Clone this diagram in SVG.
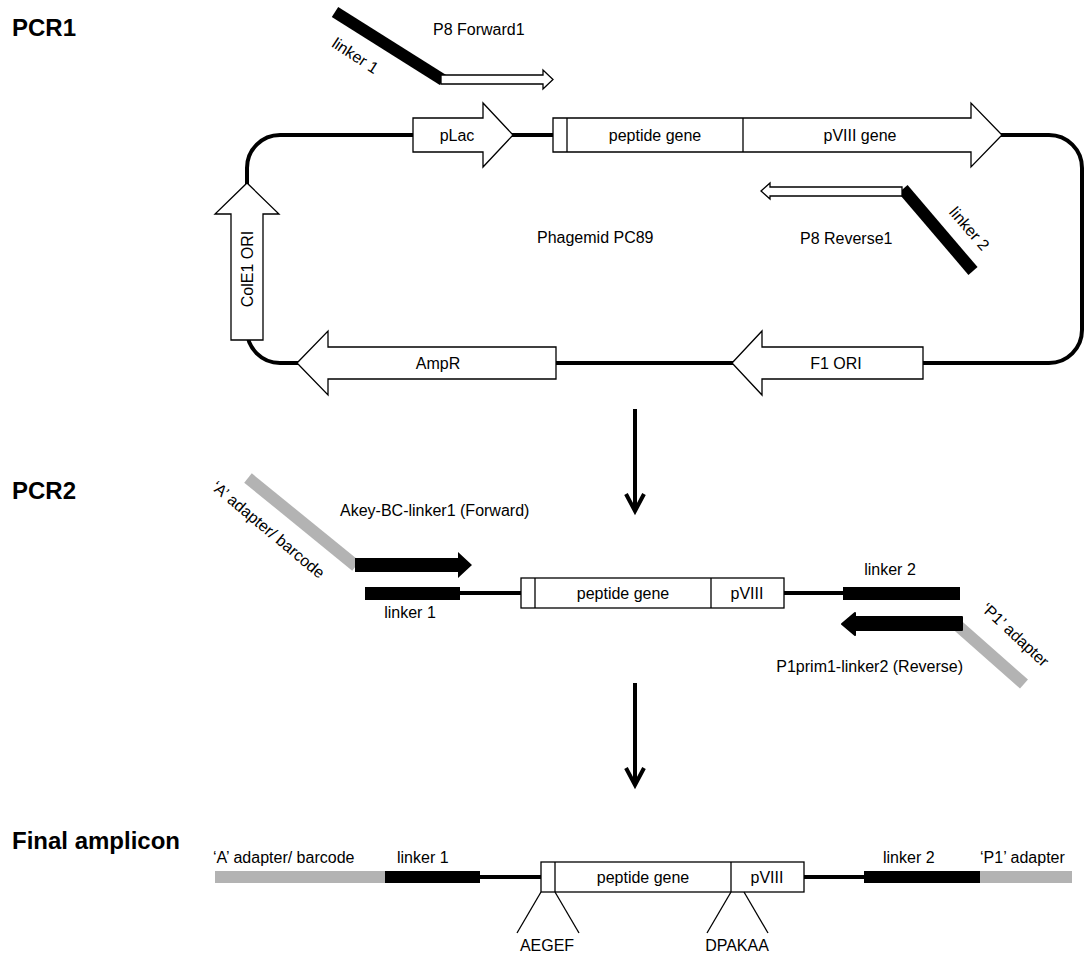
<svg xmlns="http://www.w3.org/2000/svg" width="1085" height="954" viewBox="0 0 1085 954">
<style>
text{font-family:"Liberation Sans",Arial,sans-serif;font-size:16px;fill:#000}
.h{font-weight:bold;font-size:24px}
.m{text-anchor:middle}
.e{text-anchor:end}
.box{fill:#fff;stroke:#000;stroke-width:1.3}
.thin{stroke:#000;stroke-width:1.3;fill:none}
.bb{fill:none;stroke:#000;stroke-width:4}
.blk{fill:#000}
.gry{fill:#b3b3b3}
.gbar{stroke:#b3b3b3;stroke-width:12;fill:none}
.kbar{stroke:#000;stroke-width:12;fill:none}
</style>
<rect width="1085" height="954" fill="#fff"/>
<g id="labels">
<text class="h" x="12" y="36">PCR1</text>
<text class="h" x="12" y="499">PCR2</text>
<text class="h" x="12" y="849">Final amplicon</text>
</g>
<g id="connectors">
<path class="bb" d="M280,135 H1049 A33,33 0 0 1 1082,168 V330 A33,33 0 0 1 1049,363 H280 A33,33 0 0 1 247,330 V168 A33,33 0 0 1 280,135 Z"/>
<line class="bb" x1="635" y1="409" x2="635" y2="510"/>
<polyline class="bb" points="626,494 635,511 644,494"/>
<line class="bb" x1="635" y1="683" x2="635" y2="784"/>
<polyline class="bb" points="626,768 635,785 644,768"/>
<line class="bb" x1="460" y1="593" x2="521" y2="593"/>
<line class="bb" x1="784" y1="593" x2="843" y2="593"/>
<line class="bb" x1="480" y1="877" x2="541" y2="877"/>
<line class="bb" x1="804" y1="877" x2="864" y2="877"/>
</g>
<g id="plasmid">
<g id="pLac">
<polygon class="box" points="413,118 483,118 483,103 513,135 483,167 483,152 413,152"/>
<text class="m" x="457" y="141">pLac</text>
</g>
<g id="peptide-pVIII">
<polygon class="box" points="553,118 971,118 971,103 1002,135 971,167 971,152 553,152"/>
<line class="thin" x1="567" y1="118" x2="567" y2="152"/>
<line class="thin" x1="743" y1="118" x2="743" y2="152"/>
<text class="m" x="655" y="141">peptide gene</text>
<text class="m" x="860" y="141">pVIII gene</text>
</g>
<g id="ColE1">
<polygon class="box" points="231,340 231,214 215,214 247,183 279,214 263,214 263,340"/>
<text class="m" transform="translate(253,269) rotate(-90)">ColE1 ORI</text>
</g>
<g id="AmpR">
<polygon class="box" points="297,363 328,331 328,347 556,347 556,379 328,379 328,395"/>
<text class="m" x="438" y="369">AmpR</text>
</g>
<g id="F1ORI">
<polygon class="box" points="732,363 762,331 762,347 923,347 923,379 762,379 762,395"/>
<text class="m" x="836" y="369">F1 ORI</text>
</g>
<text x="537" y="243">Phagemid PC89</text>
<g id="P8Forward1">
<line class="kbar" x1="335" y1="12" x2="443" y2="80"/>
<polygon class="box" points="441,75 543,75 543,70 553,79.5 543,89 543,84 441,84"/>
<text x="433" y="35">P8 Forward1</text>
<text class="m" transform="translate(355,56) rotate(33)" y="5">linker 1</text>
</g>
<g id="P8Reverse1">
<line class="kbar" x1="903" y1="189" x2="973" y2="271"/>
<polygon class="box" points="761,191 770,183 770,187 902,187 902,196 770,196 770,199"/>
<text x="800" y="244">P8 Reverse1</text>
<text class="m" transform="translate(969,229) rotate(49)" y="5">linker 2</text>
</g>
</g>
<g id="pcr2">
<g id="A-primer">
<line class="gbar" x1="248" y1="478" x2="356" y2="566"/>
<polygon class="blk" points="355,558 458,558 458,552 472,565 458,578 458,572 355,572"/>
<text x="340" y="516">Akey-BC-linker1 (Forward)</text>
<text class="m" transform="translate(268,530) rotate(40)" y="5">‘A’ adapter/ barcode</text>
</g>
<g id="pcr2-linker1">
<rect class="blk" x="365" y="587" width="95" height="13"/>
<text class="m" x="410" y="618">linker 1</text>
</g>
<g id="pcr2-insert">
<rect class="box" x="521" y="578" width="263" height="30"/>
<line class="thin" x1="535" y1="578" x2="535" y2="608"/>
<line class="thin" x1="711" y1="578" x2="711" y2="608"/>
<text class="m" x="623" y="599">peptide gene</text>
<text class="m" x="747" y="599">pVIII</text>
</g>
<g id="pcr2-linker2">
<rect class="blk" x="843" y="587" width="117" height="13"/>
<text class="m" x="890" y="575">linker 2</text>
</g>
<g id="P1-primer">
<line class="gbar" x1="956" y1="624" x2="1024" y2="684"/>
<polygon class="blk" stroke="#000" stroke-width="2" stroke-linejoin="round" points="962,617 855,617 855,613 842,624 855,635 855,630 962,630"/>
<text class="e" x="963" y="672">P1prim1-linker2 (Reverse)</text>
<text class="m" transform="translate(1015,635) rotate(43)" y="5">‘P1’ adapter</text>
</g>
</g>
<g id="final">
<g id="final-A">
<rect class="gry" x="215" y="871" width="170" height="12"/>
<text x="213" y="863">‘A’ adapter/ barcode</text>
</g>
<g id="final-linker1">
<rect class="blk" x="385" y="871" width="95" height="12"/>
<text x="397" y="863">linker 1</text>
</g>
<g id="final-insert">
<rect class="box" x="541" y="862" width="263" height="30"/>
<line class="thin" x1="555" y1="862" x2="555" y2="892"/>
<line class="thin" x1="731" y1="862" x2="731" y2="892"/>
<text class="m" x="643" y="883">peptide gene</text>
<text class="m" x="767" y="883">pVIII</text>
<line class="thin" x1="541" y1="892" x2="517" y2="933"/>
<line class="thin" x1="555" y1="892" x2="579" y2="933"/>
<line class="thin" x1="731" y1="892" x2="707" y2="933"/>
<line class="thin" x1="744" y1="892" x2="768" y2="933"/>
<text class="m" x="547" y="951">AEGEF</text>
<text class="m" x="737" y="951">DPAKAA</text>
</g>
<g id="final-linker2">
<rect class="blk" x="864" y="871" width="116" height="12"/>
<text x="883" y="863">linker 2</text>
</g>
<g id="final-P1">
<rect class="gry" x="980" y="871" width="92" height="12"/>
<text x="980" y="863">‘P1’ adapter</text>
</g>
</g>
</svg>
